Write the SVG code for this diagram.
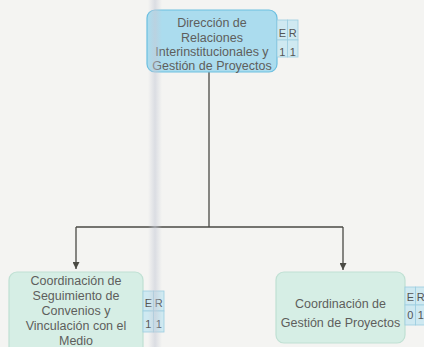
<svg xmlns="http://www.w3.org/2000/svg" width="424" height="347" viewBox="0 0 424 347">
<defs>
<style>
.lbl{font-family:"Liberation Sans",Arial,sans-serif;font-size:12.5px;fill:#5e5e5c;text-anchor:middle}
.tb{font-family:"Liberation Sans",Arial,sans-serif;font-size:11px;fill:#555;text-anchor:middle}
.top{fill:#abdcee;stroke:#6cbfe0;stroke-width:1.2}
.sub{fill:#d6eee5;stroke:#bfe0d3;stroke-width:1.2}
.cell{fill:#cfe9f1;stroke:#9ccde0;stroke-width:0.8}
.conn{fill:none;stroke:#4a4a44;stroke-width:1.3}
</style>
<marker id="arr" viewBox="0 0 10 10" refX="10" refY="5" markerWidth="7" markerHeight="7" orient="auto" markerUnits="userSpaceOnUse">
<path d="M0,0 L10,5 L0,10 z" fill="#4a4a44"/>
</marker>
<linearGradient id="band" x1="0" x2="1" y1="0" y2="0">
<stop offset="0" stop-color="#c6cad6" stop-opacity="0"/>
<stop offset="0.5" stop-color="#c6cad6" stop-opacity="0.55"/>
<stop offset="1" stop-color="#c6cad6" stop-opacity="0"/>
</linearGradient>
</defs>
<rect width="424" height="347" fill="#f4f4f2"/>
<g id="connectors">
<path class="conn" d="M209,72 V227"/>
<path class="conn" d="M76,227 H343"/>
<path class="conn" d="M76,227 V269" marker-end="url(#arr)"/>
<path class="conn" d="M343,227 V270" marker-end="url(#arr)"/>
</g>
<g id="node-direccion">
<rect class="top" x="147" y="10" width="130" height="62" rx="8"/>
<text class="lbl" x="212" y="26.5">Dirección de</text>
<text class="lbl" x="212" y="41.5">Relaciones</text>
<text class="lbl" x="212" y="55.5">Interinstitucionales y</text>
<text class="lbl" x="212" y="70">Gestión de Proyectos</text>
<rect class="cell" x="277" y="20" width="10.5" height="20"/>
<rect class="cell" x="287.5" y="20" width="10.5" height="20"/>
<rect class="cell" x="277" y="40" width="10.5" height="17"/>
<rect class="cell" x="287.5" y="40" width="10.5" height="17"/>
<text class="tb" x="282.3" y="37">E</text>
<text class="tb" x="292.8" y="37">R</text>
<text class="tb" x="282.3" y="56">1</text>
<text class="tb" x="292.8" y="56">1</text>
</g>
<g id="node-seguimiento">
<rect class="sub" x="9" y="272" width="134" height="84" rx="8"/>
<text class="lbl" x="76" y="284.5">Coordinación de</text>
<text class="lbl" x="76" y="300">Seguimiento de</text>
<text class="lbl" x="76" y="315">Convenios y</text>
<text class="lbl" x="76" y="330">Vinculación con el</text>
<text class="lbl" x="76" y="344.5">Medio</text>
<rect class="cell" x="143" y="291" width="10.5" height="20"/>
<rect class="cell" x="153.5" y="291" width="10.5" height="20"/>
<rect class="cell" x="143" y="311" width="10.5" height="21"/>
<rect class="cell" x="153.5" y="311" width="10.5" height="21"/>
<text class="tb" x="148.3" y="307">E</text>
<text class="tb" x="158.8" y="307">R</text>
<text class="tb" x="148.3" y="328">1</text>
<text class="tb" x="158.8" y="328">1</text>
</g>
<g id="node-gestion">
<rect class="sub" x="276" y="272" width="129" height="71" rx="8"/>
<text class="lbl" x="340.5" y="307.5">Coordinación de</text>
<text class="lbl" x="340.5" y="326.5">Gestión de Proyectos</text>
<rect class="cell" x="405" y="287" width="10.5" height="18"/>
<rect class="cell" x="415.5" y="287" width="10.5" height="18"/>
<rect class="cell" x="405" y="305" width="10.5" height="20"/>
<rect class="cell" x="415.5" y="305" width="10.5" height="20"/>
<text class="tb" x="410.3" y="301">E</text>
<text class="tb" x="420.8" y="301">R</text>
<text class="tb" x="410.3" y="319">0</text>
<text class="tb" x="420.8" y="319">1</text>
</g>
<rect x="148" y="0" width="14" height="347" fill="url(#band)"/>
</svg>
